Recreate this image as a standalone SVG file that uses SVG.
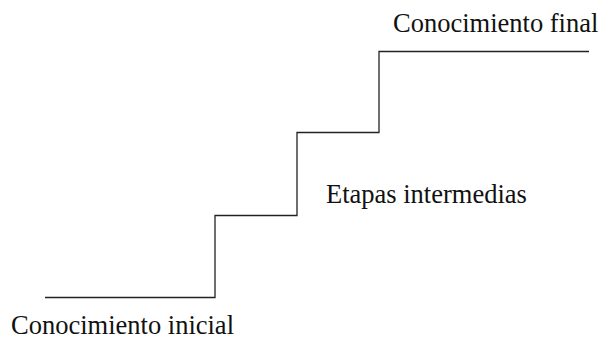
<svg xmlns="http://www.w3.org/2000/svg" width="607" height="345" viewBox="0 0 607 345">
  <style>
    .label { font-family: "Liberation Serif", "Times New Roman", serif; font-size: 26.5px; fill: #111; }
    .stair { fill: none; stroke: #222; stroke-width: 1.3; }
  </style>
  <rect width="607" height="345" fill="#fff"/>
  <g id="connectors">
    <polyline class="stair" points="45,297.5 215,297.5 215,215.5 297,215.5 297,132.5 379,132.5 379,51.5 589,51.5"/>
  </g>
  <g id="final">
    <text class="label" x="393" y="32">Conocimiento final</text>
  </g>
  <g id="intermedias">
    <text class="label" x="326" y="203">Etapas intermedias</text>
  </g>
  <g id="inicial">
    <text class="label" x="11" y="334">Conocimiento inicial</text>
  </g>
</svg>
